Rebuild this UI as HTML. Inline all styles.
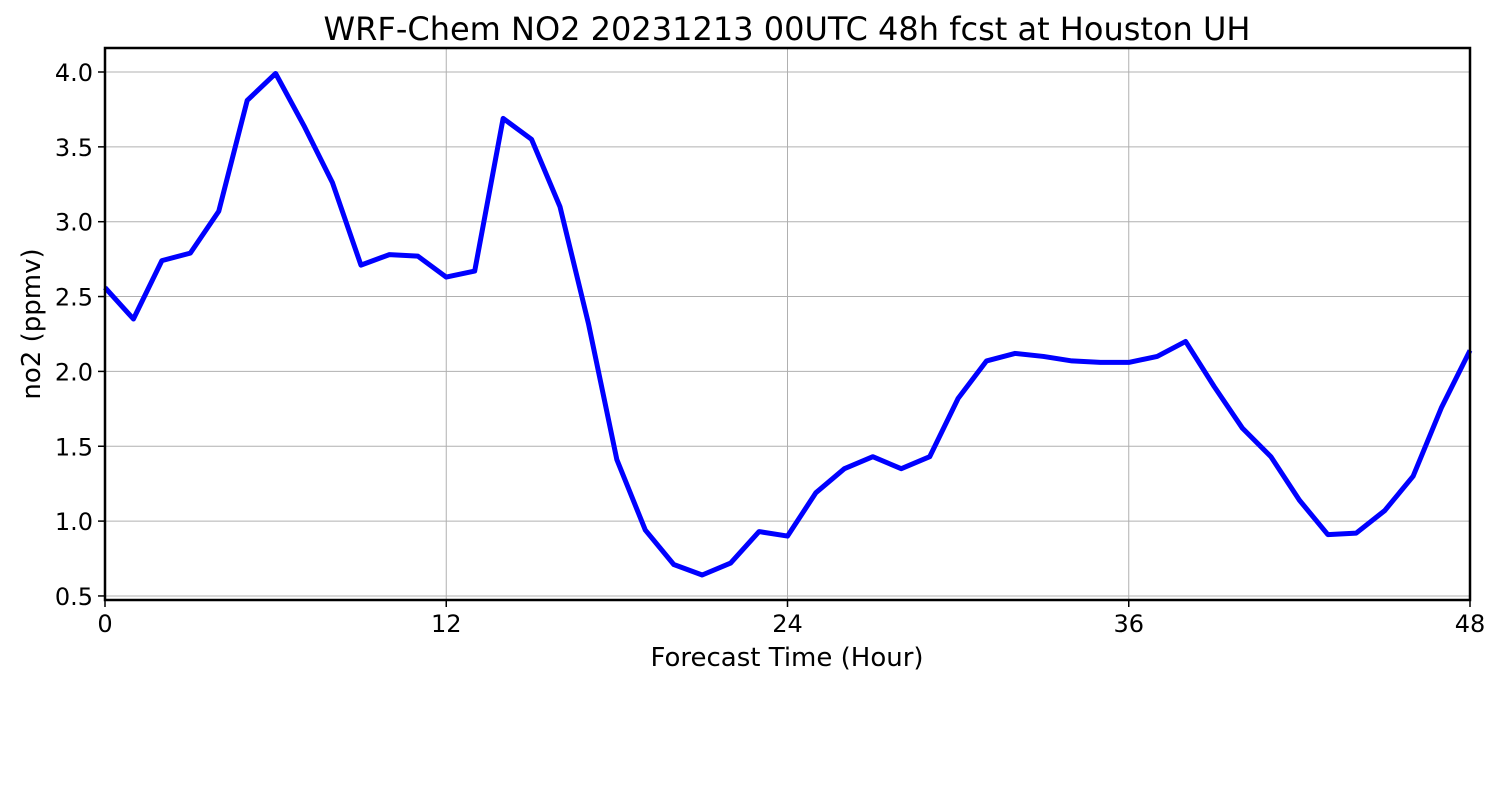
<!DOCTYPE html>
<html><head><meta charset="utf-8"><style>
body{margin:0;background:#fff;font-family:"Liberation Sans","DejaVu Sans",sans-serif;}
</style></head><body>
<svg width="1500" height="800" viewBox="0 0 1500 800" xmlns="http://www.w3.org/2000/svg">
<rect width="1500" height="800" fill="#fff"/>
<text x="787" y="40" font-size="32" text-anchor="middle" fill="#000" font-family="DejaVu Sans, Liberation Sans, sans-serif">WRF-Chem NO2  20231213 00UTC 48h fcst at Houston UH</text>
<g id="grid"></g>
<g id="ticks"></g>
<polyline id="line" fill="none" stroke="#0000ff" stroke-width="5" stroke-linejoin="round"/>
<rect x="105" y="48" width="1365" height="552" fill="none" stroke="#000" stroke-width="2.5"/>
<text x="787" y="666" font-size="26" text-anchor="middle" font-family="DejaVu Sans, Liberation Sans, sans-serif">Forecast Time (Hour)</text>
<text transform="translate(40,324) rotate(-90)" font-size="26" text-anchor="middle" font-family="DejaVu Sans, Liberation Sans, sans-serif">no2  (ppmv)</text>
</svg>
<script>
const hours=[0,1,2,3,4,5,6,7,8,9,10,11,12,13,14,15,16,17,18,19,20,21,22,23,24,25,26,27,28,29,30,31,32,33,34,35,36,37,38,39,40,41,42,43,44,45,46,47,48];
const no2=[2.56,2.35,2.74,2.79,3.07,3.81,3.99,3.64,3.26,2.71,2.78,2.77,2.63,2.67,3.69,3.55,3.10,2.32,1.41,0.94,0.71,0.64,0.72,0.93,0.90,1.19,1.35,1.43,1.35,1.43,1.82,2.07,2.12,2.10,2.07,2.06,2.06,2.10,2.20,1.90,1.62,1.43,1.14,0.91,0.92,1.07,1.30,1.76,2.14];
const xTicks=[0,12,24,36,48];
const yTicks=[0.5,1.0,1.5,2.0,2.5,3.0,3.5,4.0];
const NS="http://www.w3.org/2000/svg";
function xs(h){return 105+h*(1365/48);}
function ys(v){return 72+(4.0-v)*149.7;}
const grid=document.getElementById('grid'),ticks=document.getElementById('ticks');
function mk(tag,attrs,parent){const e=document.createElementNS(NS,tag);for(const k in attrs)e.setAttribute(k,attrs[k]);parent.appendChild(e);return e;}
xTicks.forEach(t=>{
  const g=mk('line',{x1:xs(t),x2:xs(t),y1:48,y2:600,stroke:'#b0b0b0','stroke-width':1},grid);
  
  
  const tk=mk('line',{x1:xs(t),x2:xs(t),y1:600,y2:607,stroke:'#000','stroke-width':1.5},ticks);
  
  
  const l=mk('text',{x:xs(t),y:632,'font-size':24,'text-anchor':'middle','font-family':'DejaVu Sans, Liberation Sans, sans-serif'},ticks);
  l.textContent=t;
  
  
});
yTicks.forEach(t=>{
  const g=mk('line',{x1:105,x2:1470,y1:ys(t),y2:ys(t),stroke:'#b0b0b0','stroke-width':1},grid);
  
  
  const tk=mk('line',{x1:98,x2:105,y1:ys(t),y2:ys(t),stroke:'#000','stroke-width':1.5},ticks);
  
  
  const l=mk('text',{x:93,y:ys(t)+9,'font-size':24,'text-anchor':'end','font-family':'DejaVu Sans, Liberation Sans, sans-serif'},ticks);
  l.textContent=t.toFixed(1);
  
  
});
document.getElementById('line').setAttribute('points',hours.map((h,i)=>xs(h)+','+ys(no2[i])).join(' '));
</script>
</body></html>
